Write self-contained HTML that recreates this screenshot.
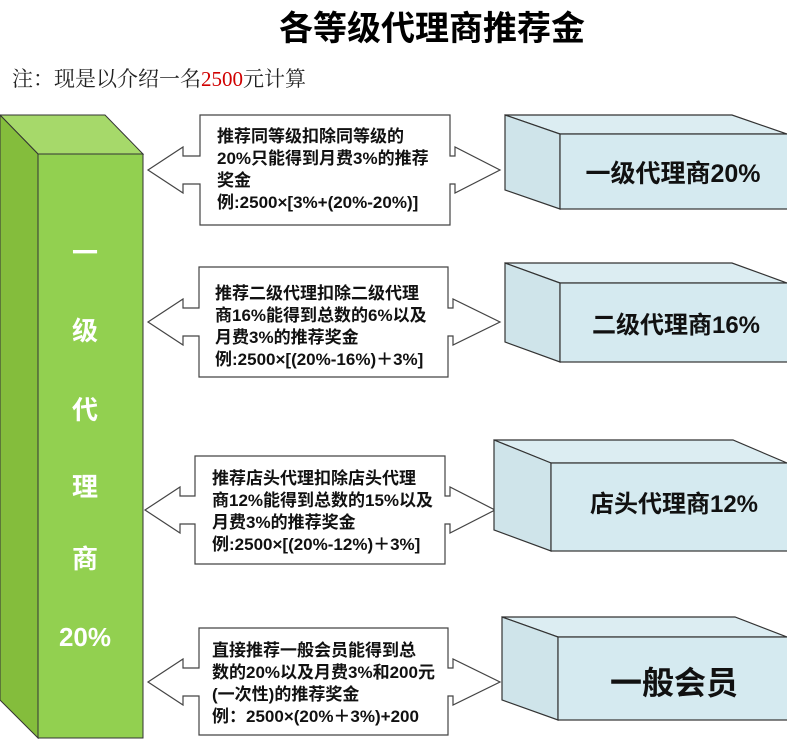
<!DOCTYPE html>
<html><head><meta charset="utf-8"><style>
body{margin:0;background:#fff;width:787px;height:739px;overflow:hidden}
svg{display:block}
.cj{font-family:"Liberation Sans","Noto Sans CJK SC",sans-serif}
</style></head><body>
<svg width="787" height="739" viewBox="0 0 787 739" xmlns="http://www.w3.org/2000/svg">
<text x="432" y="40" text-anchor="middle" class="cj" font-size="34" font-weight="bold" fill="#000">各等级代理商推荐金</text>
<text x="12" y="86" font-family="'Liberation Serif','Noto Serif CJK SC',serif" font-size="21" fill="#222">注：现是以介绍一名<tspan fill="#d00000">2500</tspan>元计算</text>

<!-- green bar -->
<polygon points="0,115 105,115 143,154 38,154" fill="#a6d96a" stroke="#333" stroke-width="1"/>
<polygon points="0,115 38,154 38,738 0,700" fill="#84bd3c" stroke="#333" stroke-width="1"/>
<rect x="38" y="154" width="105" height="584" fill="#92d050" stroke="#333" stroke-width="1"/>
<g class="cj" font-size="26" font-weight="bold" fill="#fff" text-anchor="middle">
<text x="85" y="262">一</text>
<text x="85" y="340">级</text>
<text x="85" y="419">代</text>
<text x="85" y="496">理</text>
<text x="85" y="568">商</text>
<text x="85" y="646">20%</text>
</g>

<!-- callouts -->
<g fill="#fff" stroke="#444" stroke-width="1.2">
<path d="M200,115 H450 V156 H455 V147 L500,170 L455,193 V184 H450 V225 H200 V184 H183 V193 L148,170 L183,147 V156 H200 Z"/>
<path d="M199,267 H448 V308 H453 V299 L500,322 L453,345 V336 H448 V377 H199 V336 H183 V345 L148,322 L183,299 V308 H199 Z"/>
<path d="M195,456 H445 V496 H450 V487 L495,510 L450,533 V524 H445 V564 H195 V524 H180 V533 L145,510 L180,487 V496 H195 Z"/>
<path d="M199,628 H448 V668 H453 V659 L500,682 L453,705 V696 H448 V735 H199 V696 H183 V705 L148,682 L183,659 V668 H199 Z"/>
</g>
<g class="cj" font-size="17" font-weight="bold" fill="#111">
<text x="217" y="142">推荐同等级扣除同等级的</text>
<text x="217" y="164">20%只能得到月费3%的推荐</text>
<text x="217" y="186">奖金</text>
<text x="217" y="208">例:2500×[3%+(20%-20%)]</text>

<text x="215" y="299">推荐二级代理扣除二级代理</text>
<text x="215" y="321">商16%能得到总数的6%以及</text>
<text x="215" y="343">月费3%的推荐奖金</text>
<text x="215" y="365">例:2500×[(20%-16%)＋3%]</text>

<text x="212" y="484">推荐店头代理扣除店头代理</text>
<text x="212" y="506">商12%能得到总数的15%以及</text>
<text x="212" y="528">月费3%的推荐奖金</text>
<text x="212" y="550">例:2500×[(20%-12%)＋3%]</text>

<text x="212" y="656">直接推荐一般会员能得到总</text>
<text x="212" y="678">数的20%以及月费3%和200元</text>
<text x="212" y="700">(一次性)的推荐奖金</text>
<text x="212" y="722">例：2500×(20%＋3%)+200</text>
</g>

<!-- 3D boxes -->
<g stroke="#333" stroke-width="1.2">
<polygon points="505,115 732,115 787,134 560,134" fill="#dcedf2"/>
<polygon points="505,115 560,134 560,209 505,190" fill="#cfe4ea"/>
<rect x="560" y="134" width="228" height="75" fill="#d5eaf0"/>

<polygon points="505,263 732,263 787,283 560,283" fill="#dcedf2"/>
<polygon points="505,263 560,283 560,362 505,342" fill="#cfe4ea"/>
<rect x="560" y="283" width="228" height="79" fill="#d5eaf0"/>

<polygon points="494,440 733,440 787,463 551,463" fill="#dcedf2"/>
<polygon points="494,440 551,463 551,551 494,530" fill="#cfe4ea"/>
<rect x="551" y="463" width="237" height="88" fill="#d5eaf0"/>

<polygon points="502,617 735,617 787,637 558,637" fill="#dcedf2"/>
<polygon points="502,617 558,637 558,720 502,700" fill="#cfe4ea"/>
<rect x="558" y="637" width="230" height="83" fill="#d5eaf0"/>
</g>
<g class="cj" font-weight="bold" fill="#111" text-anchor="middle">
<text x="673" y="182" font-size="25">一级代理商20%</text>
<text x="676" y="333" font-size="24">二级代理商16%</text>
<text x="674" y="512" font-size="24">店头代理商12%</text>
<text x="674" y="694" font-size="32">一般会员</text>
</g>
</svg>
</body></html>
